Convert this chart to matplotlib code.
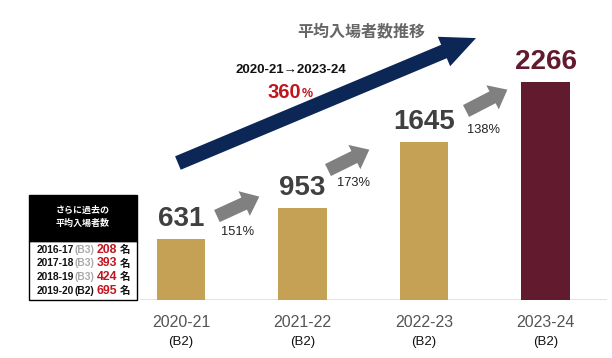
import matplotlib
matplotlib.use("Agg")
import matplotlib.pyplot as plt
from matplotlib.patches import Rectangle

plt.rcParams['font.family'] = ['Liberation Sans', 'DejaVu Sans']
JP = ['Noto Sans CJK JP', 'DejaVu Sans']

# data
seasons = ['2020-21', '2021-22', '2022-23', '2023-24']
leagues = ['(B2)', '(B2)', '(B2)', '(B2)']
attendance = [631, 953, 1645, 2266]
growth = ['151%', '173%', '138%']
total_span = '2020-21\u21922023-24'
total_growth = '360'
title = '平均入場者数推移'

past_header = ['さらに過去の', '平均入場者数']
past_seasons = ['2016-17', '2017-18', '2018-19', '2019-20']
past_leagues = ['(B3)', '(B3)', '(B3)', '(B2)']
past_attendance = [208, 393, 424, 695]

GOLD = '#C4A155'
MAROON = '#621B2E'
NAVY = '#0C2756'
GRAY_ARROW = '#808080'
RED = '#C0161E'

W, H = 612, 358
fig = plt.figure(figsize=(W / 100, H / 100), dpi=100)


def fx(px):
    return px / W


def fy(py):
    return 1 - py / H


ax = fig.add_axes([fx(140), fy(300), 467 / W, 300 / H])
ax.set_xlim(-0.337, 3.506)
ax.set_ylim(0, 3119)
ax.axis('off')
ax.axhline(0, color='#DDDDDD', lw=1.2, zorder=1)

x = list(range(len(seasons)))
colors = [GOLD] * (len(seasons) - 1) + [MAROON]
ax.bar(x, attendance, width=0.4, color=colors, zorder=2)

for i, v in enumerate(attendance):
    c = MAROON if i == len(attendance) - 1 else '#404040'
    ax.annotate(str(v), (i, v), xytext=(0, 9.5), textcoords='offset points',
                ha='center', va='baseline', fontsize=20, fontweight='bold', color=c)
    ax.annotate(seasons[i], (i, 0), xycoords=('data', 'axes fraction'),
                xytext=(0, -16), textcoords='offset points',
                ha='center', va='center', fontsize=11.5, color='#555555')
    ax.annotate(leagues[i], (i, 0), xycoords=('data', 'axes fraction'),
                xytext=(0, -30.5), textcoords='offset points',
                ha='center', va='center', fontsize=9.5, color='#111111')

# growth arrows between bars (tail, tip, label position) in data units
step_arrows = [((0.296, 873), (0.645, 1075), (0.469, 707)),
               ((1.210, 1351), (1.550, 1563), (1.416, 1216)),
               ((2.346, 1965), (2.686, 2187), (2.486, 1767))]
for (tail, tip, lab), g in zip(step_arrows, growth):
    ax.annotate('', xy=tip, xytext=tail,
                arrowprops=dict(arrowstyle='simple,head_length=12,head_width=19.5,tail_width=9.6',
                                color=GRAY_ARROW, lw=0, shrinkA=0, shrinkB=0, mutation_scale=1))
    ax.text(lab[0], lab[1], g, ha='center', va='center', fontsize=9.3, color='#222222')

# big overall arrow
ax.annotate('', xy=(2.428, 2723), xytext=(-0.025, 1424),
            arrowprops=dict(arrowstyle='simple,head_length=25,head_width=23,tail_width=10.5',
                            color=NAVY, lw=0, shrinkA=0, shrinkB=0, mutation_scale=1),
            annotation_clip=False, zorder=3)

fig.text(fx(361), fy(31), title, ha='center', va='center', fontsize=11.5,
         fontweight='bold', color='#666666', family=JP)
fig.text(fx(291), fy(70), total_span, ha='center', va='center', fontsize=9.5,
         fontweight='bold', color='#111111')
t360 = fig.text(fx(268), fy(93), total_growth, ha='left', va='center', fontsize=14.5,
                fontweight='bold', color=RED)

fig.canvas.draw()
r = fig.canvas.get_renderer()
bb = t360.get_window_extent(r)
fig.text(bb.x1 / W, bb.y0 / H + 2.5 / H, '%', ha='left', va='bottom', fontsize=9,
         fontweight='bold', color=RED)

# inset box with earlier seasons
fig.add_artist(Rectangle((fx(29), fy(300)), 108 / W, 59 / H, transform=fig.transFigure,
                         facecolor='white', edgecolor='black', lw=1))
fig.add_artist(Rectangle((fx(29), fy(241)), 108 / W, 46 / H, transform=fig.transFigure,
                         facecolor='black', edgecolor='black', lw=1))
for k, line in enumerate(past_header):
    fig.text(fx(83), fy(210 + 13.5 * k), line, ha='center', va='center', fontsize=6.5,
             fontweight='bold', color='white', family=JP)

for k in range(len(past_seasons)):
    y = fy(250 + 13.5 * k)
    league_col = '#111111' if past_leagues[k] == '(B2)' else '#AAAAAA'
    pieces = [(past_seasons[k], 7.4, '#111111', 'bold', None, 0),
              (past_leagues[k], 7.4, league_col, 'bold', None, 0),
              (str(past_attendance[k]), 8.8, RED, 'bold', None, 2.5),
              ('名', 7.5, '#111111', 'bold', JP, 2.5)]
    xpos = 37
    for txt, fs, col, fw, fam, gap in pieces:
        xpos += gap
        kw = dict(family=fam) if fam else {}
        t = fig.text(fx(xpos), y, txt, ha='left', va='center', fontsize=fs, color=col,
                     fontweight=fw, **kw)
        xpos = t.get_window_extent(r).x1

fig.savefig('out.png', dpi=100)
